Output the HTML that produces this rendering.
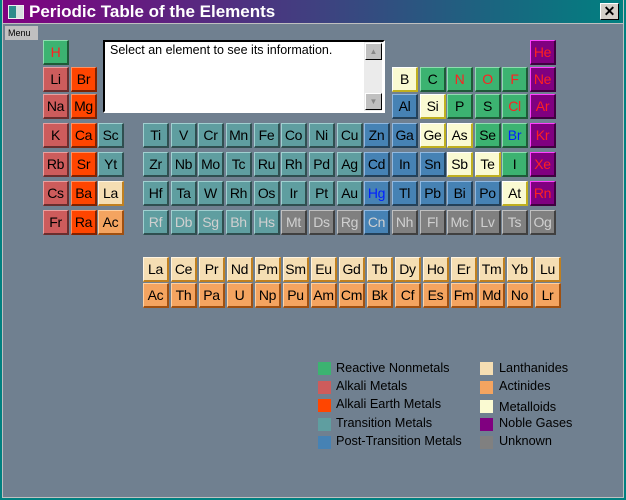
<!DOCTYPE html>
<html><head><meta charset="utf-8"><style>
*{box-sizing:border-box;margin:0;padding:0}
body{width:626px;height:500px;overflow:hidden;background:#008080;font-family:"Liberation Sans",sans-serif;position:relative}
#win{position:absolute;left:2px;top:0;width:622px;height:498px;background:#708090;border:1px solid #c0c0c0;border-top:none}
#title{position:absolute;left:0;top:0;width:620px;height:24px;background:linear-gradient(90deg,#800080,#008080);color:#fff;font-weight:bold;font-size:17px;line-height:24px;padding-left:26px;border-bottom:1px solid #c0c0c0}
#ticon{position:absolute;left:5px;top:5px;width:16px;height:14px;background:linear-gradient(90deg,#2e8b8b 50%,#d8e0e0 50%);border:1px solid #eee}
#close{position:absolute;right:4px;top:3px;width:19px;height:17px;background:#d4d0c8;border:1px solid;border-color:#fff #000 #000 #fff;color:#000;font-size:14px;line-height:15px;text-align:center;font-weight:bold}
#menu{position:absolute;left:2px;top:26px;width:33px;height:14px;background:#c0c0c0;font-size:9px;line-height:14px;padding-left:3px;color:#000}
#info{position:absolute;left:103px;top:40px;width:282px;height:73px;background:#fff;border:2px solid;border-color:#000 #fff #fff #000;font-size:12.5px;padding:1px 5px}
#sb{position:absolute;right:1px;top:0;width:18px;height:69px;background:#ebebeb}
.sbb{position:absolute;left:1px;width:17px;height:17px;background:#c0c0c0;border:1px solid;border-color:#fff #000 #000 #fff;font-size:8px;color:#888;text-align:center;line-height:15px}
.el{position:absolute;width:26px;height:25px;border:1px solid;border-right-width:2px;border-bottom-width:2px;font-size:14px;text-align:center;line-height:22px;color:#000;letter-spacing:-0.3px}
.lg{position:absolute;font-size:12.7px;color:#000;white-space:nowrap}
.sw{position:absolute;width:13px;height:13px}
</style></head><body>
<div id="win">
<div id="title"><div id="ticon"></div>Periodic Table of the Elements<div id="close">✕</div></div>
<div id="menu">Menu</div>
</div>
<div id="info">Select an element to see its information.
<div id="sb"><div class="sbb" style="top:1px">▲</div><div class="sbb" style="top:51px">▼</div></div></div>
<script>
const C={rn:'#3cb371',ak:'#cd5c5c',ae:'#ff4500',tm:'#5f9ea0',pt:'#4682b4',la:'#f5deb3',ac:'#f4a460',md:'#fafad2',ng:'#800080',un:'#808080'};
const HL={rn:'#8fdcb0',ak:'#e8a0a0',ae:'#ff9060',tm:'#a0d0d0',pt:'#90b8e0',la:'#fff4e0',ac:'#ffd0a0',md:'#ffffff',ng:'#ff40ff',un:'#c0c0c0'};
const DK={rn:'#1e5a38',ak:'#6a2e2e',ae:'#802200',tm:'#2f4f50',pt:'#23415a',la:'#c08020',ac:'#a05010',md:'#c0b020',ng:'#400040',un:'#404040'};
const elements=[
['H',1,1,'rn','#ff2020'],['He',18,1,'ng','#ff2020'],
['Li',1,2,'ak'],['Br',2,2,'ae'],['B',13,2,'md'],['C',14,2,'rn'],['N',15,2,'rn','#ff2020'],['O',16,2,'rn','#ff2020'],['F',17,2,'rn','#ff2020'],['Ne',18,2,'ng','#ff2020'],
['Na',1,3,'ak'],['Mg',2,3,'ae'],['Al',13,3,'pt'],['Si',14,3,'md'],['P',15,3,'rn'],['S',16,3,'rn'],['Cl',17,3,'rn','#ff2020'],['Ar',18,3,'ng','#ff2020'],
['K',1,4,'ak'],['Ca',2,4,'ae'],['Sc',3,4,'tm'],['Ti',4,4,'tm'],['V',5,4,'tm'],['Cr',6,4,'tm'],['Mn',7,4,'tm'],['Fe',8,4,'tm'],['Co',9,4,'tm'],['Ni',10,4,'tm'],['Cu',11,4,'tm'],['Zn',12,4,'pt'],['Ga',13,4,'pt'],['Ge',14,4,'md'],['As',15,4,'md'],['Se',16,4,'rn'],['Br',17,4,'rn','#0020ff'],['Kr',18,4,'ng','#ff2020'],
['Rb',1,5,'ak'],['Sr',2,5,'ae'],['Yt',3,5,'tm'],['Zr',4,5,'tm'],['Nb',5,5,'tm'],['Mo',6,5,'tm'],['Tc',7,5,'tm'],['Ru',8,5,'tm'],['Rh',9,5,'tm'],['Pd',10,5,'tm'],['Ag',11,5,'tm'],['Cd',12,5,'pt'],['In',13,5,'pt'],['Sn',14,5,'pt'],['Sb',15,5,'md'],['Te',16,5,'md'],['I',17,5,'rn'],['Xe',18,5,'ng','#ff2020'],
['Cs',1,6,'ak'],['Ba',2,6,'ae'],['La',3,6,'la'],['Hf',4,6,'tm'],['Ta',5,6,'tm'],['W',6,6,'tm'],['Rh',7,6,'tm'],['Os',8,6,'tm'],['Ir',9,6,'tm'],['Pt',10,6,'tm'],['Au',11,6,'tm'],['Hg',12,6,'pt','#0020ff'],['Tl',13,6,'pt'],['Pb',14,6,'pt'],['Bi',15,6,'pt'],['Po',16,6,'pt'],['At',17,6,'md'],['Rn',18,6,'ng','#ff2020'],
['Fr',1,7,'ak'],['Ra',2,7,'ae'],['Ac',3,7,'ac'],['Rf',4,7,'tm','#d0d0d0'],['Db',5,7,'tm','#d0d0d0'],['Sg',6,7,'tm','#d0d0d0'],['Bh',7,7,'tm','#d0d0d0'],['Hs',8,7,'tm','#d0d0d0'],['Mt',9,7,'un','#d0d0d0'],['Ds',10,7,'un','#d0d0d0'],['Rg',11,7,'un','#d0d0d0'],['Cn',12,7,'pt','#d0d0d0'],['Nh',13,7,'un','#d0d0d0'],['Fl',14,7,'un','#d0d0d0'],['Mc',15,7,'un','#d0d0d0'],['Lv',16,7,'un','#d0d0d0'],['Ts',17,7,'un','#d0d0d0'],['Og',18,7,'un','#d0d0d0']
];
const lanthanides=['La','Ce','Pr','Nd','Pm','Sm','Eu','Gd','Tb','Dy','Ho','Er','Tm','Yb','Lu'];
const actinides=['Ac','Th','Pa','U','Np','Pu','Am','Cm','Bk','Cf','Es','Fm','Md','No','Lr'];
const legendLeft=[['Reactive Nonmetals','rn'],['Alkali Metals','ak'],['Alkali Earth Metals','ae'],['Transition Metals','tm'],['Post-Transition Metals','pt']];
const legendRight=[['Lanthanides','la'],['Actinides','ac'],['Metalloids','md'],['Noble Gases','ng'],['Unknown','un']];
const rowTop=[40,67,94,123,152,181,210];
function colX(c){return c<=3?43+(c-1)*27.5:143+(c-4)*27.65;}
function mk(sym,x,y,cat,tc){
 const d=document.createElement('div');d.className='el';
 
 
 d.style.left=x+'px';d.style.top=y+'px';d.style.background=C[cat];
 d.style.borderColor=HL[cat]+' '+DK[cat]+' '+DK[cat]+' '+HL[cat];
 if(tc)d.style.color=tc;d.textContent=sym;document.body.appendChild(d);
}
elements.forEach(e=>mk(e[0],Math.round(colX(e[1])),rowTop[e[2]-1],e[3],e[4]));
lanthanides.forEach((s,i)=>mk(s,Math.round(143+i*28),257,'la'));
actinides.forEach((s,i)=>mk(s,Math.round(143+i*28),283,'ac'));
function leg(list,sx,tx,ys,ty){list.forEach((l,i)=>{
 const s=document.createElement('div');s.className='sw';
 
 
 s.style.left=sx+'px';s.style.top=ys[i]+'px';s.style.background=C[l[1]];document.body.appendChild(s);
 const t=document.createElement('div');t.className='lg';
 
 
 t.style.left=tx+'px';t.style.top=ty[i]+'px';t.textContent=l[0];document.body.appendChild(t);});}
leg(legendLeft,318,336,[362,381,399,418,436],[361,379,397,416,434]);
leg(legendRight,480,499,[362,381,400,418,436],[361,379,400,416,434]);
</script>
</body></html>
